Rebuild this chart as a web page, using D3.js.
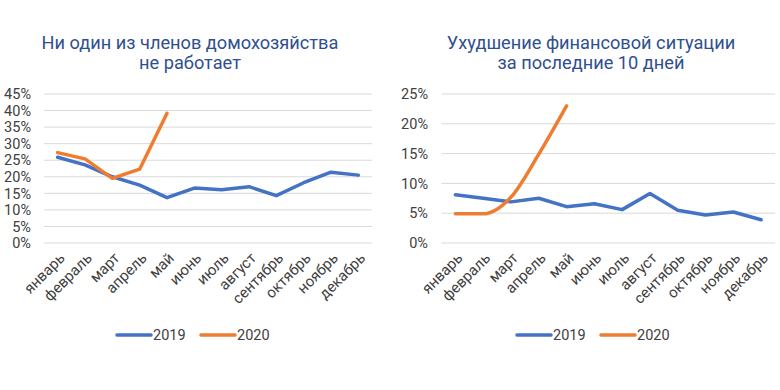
<!DOCTYPE html>
<html><head><meta charset="utf-8">
<script src="https://cdn.jsdelivr.net/npm/d3@7"></script>
<style>body{margin:0;background:#fff}svg{display:block}</style>
</head><body>
<svg id="c" width="780" height="390"></svg>
<script>
const months = ["январь","февраль","март","апрель","май","июнь","июль","август","сентябрь","октябрь","ноябрь","декабрь"];
const leftTitle = ["Ни один из членов домохозяйства","не работает"];
const rightTitle = ["Ухудшение финансовой ситуации","за последние 10 дней"];
const left2019 = [25.9,23.6,20.0,17.5,13.7,16.6,16.1,17.0,14.3,18.2,21.4,20.5];
const left2020 = [27.3,25.4,19.5,22.3,39.2];
const right2019 = [8.1,7.5,6.9,7.5,6.1,6.6,5.6,8.3,5.5,4.7,5.2,3.9];
const right2020 = [4.9,4.9,7.7,14.9,23.0];
const leftTicks = [0,5,10,15,20,25,30,35,40,45];
const rightTicks = [0,5,10,15,20,25];
const seriesNames = ["2019","2020"];
const colors = ["#4472C4","#ED7D31"];

const svg = d3.select("#c");
const font = "Roboto, 'Noto Sans', sans-serif";

function panel(cfg){
  const g = svg.append("g");
  const x = d3.scaleBand().domain(months).range([cfg.x0, cfg.x1]);
  const y = d3.scaleLinear().domain([0, cfg.max]).range([243, 94]);
  const cx = m => x(m) + x.bandwidth()/2;
  g.selectAll("line.grid").data(cfg.ticks).join("line")
    .attr("x1", cfg.x0).attr("x2", cfg.x1)
    .attr("y1", d => y(d)).attr("y2", d => y(d))
    .attr("stroke", "#d9d9d9").attr("stroke-width", 1);
  g.selectAll("text.yl").data(cfg.ticks).join("text")
    .attr("x", cfg.labelX).attr("y", d => y(d)).attr("dy", "0.36em")
    .attr("text-anchor", "end").attr("font-family", font).attr("font-size", 14.5)
    .attr("fill", "#404040").text(d => d + "%");
  g.selectAll("text.xl").data(months).join("text")
    .attr("transform", d => `translate(${cx(d)+8},${259}) rotate(-45)`)
    .attr("text-anchor", "end").attr("font-family", font).attr("font-size", 15)
    .attr("fill", "#404040").text(d => d);
  const mk = (curve) => d3.line().x((d,i) => cx(months[i])).y(d => y(d)).curve(curve);
  g.append("path").datum(cfg.s19).attr("d", mk(d3.curveLinear)).attr("fill","none")
    .attr("stroke", colors[0]).attr("stroke-width", 3.5).attr("stroke-linejoin","round").attr("stroke-linecap","round");
  g.append("path").datum(cfg.s20).attr("d", mk(cfg.curve20)).attr("fill","none")
    .attr("stroke", colors[1]).attr("stroke-width", 3.5).attr("stroke-linejoin","round").attr("stroke-linecap","round");
  const t = g.append("text").attr("text-anchor","middle").attr("font-family", font)
    .attr("font-size", 18.2).attr("fill", "#2F4F8F");
  cfg.title.forEach((s,i) => t.append("tspan").attr("x", cfg.tx).attr("y", 49 + i*20).text(s));
  seriesNames.forEach((n,i) => {
    const lx = cfg.legX + i*84;
    g.append("line").attr("x1", lx).attr("x2", lx+34).attr("y1", 335).attr("y2", 335)
      .attr("stroke", colors[i]).attr("stroke-width", 3.5).attr("stroke-linecap","round");
    g.append("text").attr("x", lx+36).attr("y", 335).attr("dy","0.36em")
      .attr("font-family", font).attr("font-size", 14.5).attr("fill", "#404040").text(n);
  });
}

panel({x0:44, x1:372, max:45, ticks:leftTicks, labelX:31, s19:left2019, s20:left2020,
       curve20:d3.curveLinear, title:leftTitle, tx:190, legX:117});
panel({x0:441.5, x1:775, max:25, ticks:rightTicks, labelX:428, s19:right2019, s20:right2020,
       curve20:d3.curveMonotoneX, title:rightTitle, tx:591, legX:517});
</script>
</body></html>
